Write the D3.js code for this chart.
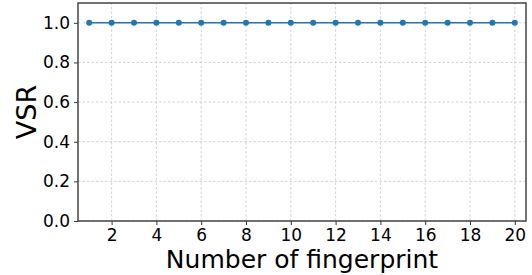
<!DOCTYPE html>
<html>
  <head>
    <script src="https://d3js.org/d3.v7.min.js"></script>
    <style>
      body { margin: 0; background: #fff; }
      text { font-family: "DejaVu Sans", sans-serif; fill: #000; }
    </style>
  </head>
  <body>
    <svg width="532" height="275"></svg>
    <script>
      const fingerprints = d3.range(1, 21);
      const vsr = [1, 1, 1, 1, 1, 1, 1, 1, 1, 1, 1, 1, 1, 1, 1, 1, 1, 1, 1, 1];
      const xTicks = [2, 4, 6, 8, 10, 12, 14, 16, 18, 20];
      const yTicks = [0, 0.2, 0.4, 0.6, 0.8, 1.0];

      const svg = d3.select("svg");
      const margin = {left: 78, right: 6, top: 3, bottom: 54};
      const width = +svg.attr("width");
      const height = +svg.attr("height");

      const x = d3.scaleLinear().domain([0.5, 20.5]).range([margin.left, width - margin.right]);
      const y = d3.scaleLinear().domain([0, 1.1]).range([height - margin.bottom, margin.top]);

      // grid
      const grid = svg.append("g")
        .attr("stroke", "#c8c8c8")
        .attr("stroke-width", 0.8)
        .attr("stroke-dasharray", "2.5,2");
      grid.selectAll(".gx").data(xTicks).enter().append("line")
        .attr("x1", d => x(d)).attr("x2", d => x(d))
        .attr("y1", y(0)).attr("y2", y(1.1));
      grid.selectAll(".gy").data(yTicks).enter().append("line")
        .attr("y1", d => y(d)).attr("y2", d => y(d))
        .attr("x1", x(0.5)).attr("x2", x(20.5));

      // axes
      const xAxis = svg.append("g")
        .attr("transform", `translate(0,${y(0)})`)
        .call(d3.axisBottom(x).tickValues(xTicks).tickSize(4).tickPadding(4).tickFormat(d3.format("d")));
      const yAxis = svg.append("g")
        .attr("transform", `translate(${x(0.5)},0)`)
        .call(d3.axisLeft(y).tickValues(yTicks).tickSize(4).tickPadding(4).tickFormat(d3.format(".1f")));
      [xAxis, yAxis].forEach(a => {
        a.selectAll("text").style("font-size", "17px").style("font-family", "DejaVu Sans");
        a.selectAll("line").attr("stroke", "#333");
        a.select(".domain").remove();
      });

      // frame
      svg.append("rect")
        .attr("x", x(0.5)).attr("y", y(1.1))
        .attr("width", x(20.5) - x(0.5)).attr("height", y(0) - y(1.1))
        .attr("fill", "none").attr("stroke", "#444").attr("stroke-width", 1.5);

      // series
      const line = d3.line().x((d, i) => x(fingerprints[i])).y(d => y(d));
      svg.append("path").datum(vsr)
        .attr("d", line)
        .attr("fill", "none")
        .attr("stroke", "#1f77b4")
        .attr("stroke-width", 1.5);
      svg.selectAll(".pt").data(vsr).enter().append("circle")
        .attr("cx", (d, i) => x(fingerprints[i]))
        .attr("cy", d => y(d))
        .attr("r", 3)
        .attr("fill", "#1f77b4");

      // labels
      svg.append("text")
        .attr("x", (x(0.5) + x(20.5)) / 2)
        .attr("y", 268)
        .attr("text-anchor", "middle")
        .style("font-size", "25px")
        .text("Number of fingerprint");
      svg.append("text")
        .attr("transform", `translate(36,${(y(0) + y(1.1)) / 2}) rotate(-90)`)
        .attr("text-anchor", "middle")
        .style("font-size", "27px")
        .text("VSR");
    </script>
  </body>
</html>
